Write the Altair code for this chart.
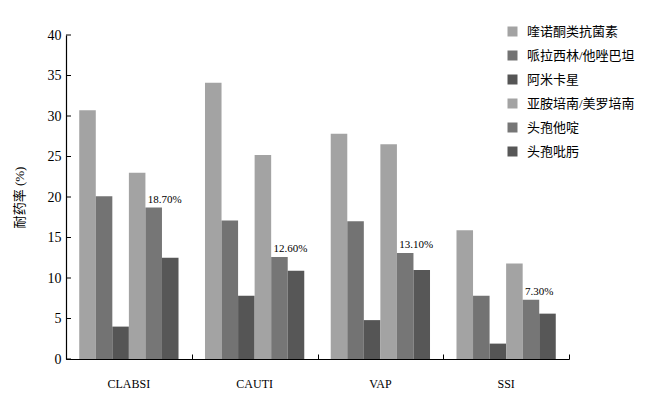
import altair as alt
import pandas as pd

groups = ["CLABSI", "CAUTI", "VAP", "SSI"]
drugs = ["喹诺酮类抗菌素", "哌拉西林/他唑巴坦", "阿米卡星", "亚胺培南/美罗培南", "头孢他啶", "头孢吡肟"]
v_quinolone = [30.7, 34.1, 27.8, 15.9]
v_pip_taz = [20.1, 17.1, 17.0, 7.8]
v_amikacin = [4.0, 7.8, 4.8, 1.9]
v_carbapenem = [23.0, 25.2, 26.5, 11.8]
v_ceftazidime = [18.7, 12.6, 13.1, 7.3]
v_cefepime = [12.5, 10.9, 11.0, 5.6]
ceftazidime_labels = ["18.70%", "12.60%", "13.10%", "7.30%"]
y_ticks = [0, 5, 10, 15, 20, 25, 30, 35, 40]
colors = ["#a3a3a3", "#737373", "#555555", "#a3a3a3", "#767676", "#575757"]

series = [v_quinolone, v_pip_taz, v_amikacin, v_carbapenem, v_ceftazidime, v_cefepime]
rows = []
for d, vals in zip(drugs, series):
    for i, g in enumerate(groups):
        lab = ceftazidime_labels[i] if d == "头孢他啶" else ""
        rows.append({"group": g, "drug": d, "value": vals[i], "label": lab})
df = pd.DataFrame(rows)
tick_df = pd.DataFrame({"value": y_ticks})

SERIF = "Liberation Serif"
CJK = "Liberation Serif, Noto Sans CJK SC"

xscale = alt.Scale(domain=groups, paddingInner=0, paddingOuter=0)
xoff = alt.XOffset("drug:N", sort=drugs, scale=alt.Scale(domain=drugs, paddingInner=0, paddingOuter=0.8))
yscale = alt.Scale(domain=[0, 40], nice=False)

base = alt.Chart(df)

bars = base.mark_bar().encode(
    x=alt.X("group:N", sort=groups, scale=xscale,
            axis=alt.Axis(title=None, labelAngle=0, ticks=False, tickSize=0, labelPadding=19,
                          labelFont=SERIF, labelFontSize=12, labelColor="#000",
                          domainColor="#000", domainWidth=1.2)),
    xOffset=xoff,
    y=alt.Y("value:Q", scale=yscale,
            axis=alt.Axis(title="耐药率 (%)", values=y_ticks,
                          ticks=False, tickSize=0, labelPadding=5, grid=False,
                          labelFont=SERIF, labelFontSize=14, labelColor="#000",
                          titleFont=CJK, titleFontSize=13, titleFontWeight="normal",
                          titleColor="#000", titlePadding=21,
                          domainColor="#000", domainWidth=1.2)),
    color=alt.Color("drug:N", sort=drugs, scale=alt.Scale(domain=drugs, range=colors),
                    legend=alt.Legend(title=None, orient="none", legendX=440, legendY=-10,
                                      symbolType="square", symbolSize=100, symbolStrokeWidth=0,
                                      labelFont=CJK, labelFontSize=13, labelColor="#000",
                                      labelLimit=400,
                                      rowPadding=10, labelOffset=8, padding=0)),
)

xticks = base.mark_bar(opacity=0).encode(
    x=alt.X("group:N", sort=groups, scale=xscale,
            axis=alt.Axis(orient="top", offset=-324, title=None, labels=False, domain=False,
                          ticks=True, tickSize=5, tickBand="extent", tickColor="#000",
                          tickWidth=1)),
    xOffset=xoff,
    y=alt.Y("value:Q", scale=yscale, axis=None),
)

yticks = alt.Chart(tick_df).mark_rule(color="#000", strokeWidth=1).encode(
    y=alt.Y("value:Q", scale=yscale, axis=None),
    x=alt.value(0),
    x2=alt.value(5),
)

text = base.transform_filter(alt.datum.label != "").mark_text(
    align="left", baseline="bottom", dx=-6, dy=-3, font=SERIF, fontSize=11, color="#000"
).encode(
    x=alt.X("group:N", sort=groups, scale=xscale, axis=None),
    xOffset=xoff,
    y=alt.Y("value:Q", scale=yscale, axis=None),
    text="label:N",
)

chart = alt.layer(bars, xticks, yticks, text).resolve_axis(x="independent", y="independent").properties(
    width=503, height=324,
    background="white",
    autosize=alt.AutoSizeParams(type="none"),
    padding={"left": 58, "top": 27, "right": 68, "bottom": 36},
).configure_view(stroke=None)

chart.save("out.html", embed_options={"renderer": "svg", "actions": False})
